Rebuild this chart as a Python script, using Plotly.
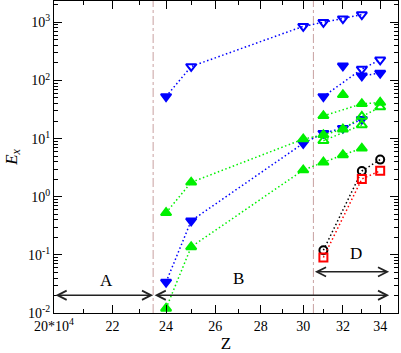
import math
import plotly.graph_objects as go

# ---- data ----
z_blue_top = [24, 25, 30, 31, 32, 33]
e_blue_top = [53, 174, 853, 1000, 1158, 1359]
sym_blue_top = ["triangle-down", "triangle-down-open", "triangle-down-open",
                "triangle-down-open", "triangle-down-open", "triangle-down-open"]

z_blue_mid = [31, 33, 34]
e_blue_mid = [53, 157, 227]
sym_blue_mid = ["triangle-down", "triangle-down-open", "triangle-down-open"]

z_blue_mid2 = [33, 34]
e_blue_mid2 = [120, 134]
z_blue_single = [32]
e_blue_single = [179]

z_blue_low = [24, 25, 30, 31, 32, 33]
e_blue_low = [0.034, 0.385, 8.3, 12.4, 15.1, 21.6]

z_green_1 = [24, 25, 30, 31, 32, 33, 34]
e_green_1 = [0.53, 1.77, 9.8, 11.6, 14.5, 24, 34.8]
sym_green_1 = ["triangle-up", "triangle-up", "triangle-up", "triangle-up",
               "triangle-up", "triangle-up-open", "triangle-up-open"]

z_green_2 = [24, 25, 30, 31, 32, 33]
e_green_2 = [0.012, 0.137, 2.88, 3.92, 5.24, 6.8]

z_green_3 = [31, 33, 34]
e_green_3 = [24.6, 39.6, 41.8]
z_green_single = [32]
e_green_single = [56.6]

z_green_open = [31, 33]
e_green_open = [9.2, 17.2]

z_black = [31, 33, 34]
e_black = [0.12, 2.77, 4.35]

z_red = [31, 33, 34]
e_red = [0.09, 2.02, 2.8]

boundaries = [23.5, 30.5]

x_ticks = [20, 22, 24, 26, 28, 30, 32, 34]
x_ticktext = ["20*10<sup>4</sup>", "22", "24", "26", "28", "30", "32", "34"]
x_minor = [21, 23, 25, 27, 29, 31, 33, 35]
y_ticks = [0.01, 0.1, 1, 10, 100, 1000]
y_ticktext = ["10<sup>-2</sup>", "10<sup>-1</sup>", "10<sup>0</sup>",
              "10<sup>1</sup>", "10<sup>2</sup>", "10<sup>3</sup>"]

BLUE = "#0000ff"
GREEN = "#00f000"
RED = "#ff0000"
BLACK = "#000000"
FONT = "Liberation Serif"
DOTS = "1.5px,2.5px"

fig = go.Figure()


def add_series(x, y, color, symbol, mode="lines+markers", size=9):
    fig.add_trace(go.Scatter(
        x=x, y=y, mode=mode,
        line=dict(color=color, width=1.5, dash=DOTS),
        marker=dict(symbol=symbol, size=size, color=color,
                    line=dict(color=color, width=2)),
        showlegend=False,
    ))


# vertical dash-dot region boundaries
for b in boundaries:
    fig.add_trace(go.Scatter(
        x=[b, b], y=[0.01, 3000], mode="lines",
        line=dict(color="#c8a0a0", width=1, dash="dashdot"),
        showlegend=False, hoverinfo="skip",
    ))

add_series(z_blue_top, e_blue_top, BLUE, sym_blue_top)
add_series(z_blue_mid, e_blue_mid, BLUE, sym_blue_mid)
add_series(z_blue_mid2, e_blue_mid2, BLUE, "triangle-down")
add_series(z_blue_single, e_blue_single, BLUE, "triangle-down", mode="markers")
add_series(z_blue_low, e_blue_low, BLUE, "triangle-down")
add_series(z_green_1, e_green_1, GREEN, sym_green_1)
add_series(z_green_2, e_green_2, GREEN, "triangle-up")
add_series(z_green_3, e_green_3, GREEN, "triangle-up")
add_series(z_green_single, e_green_single, GREEN, "triangle-up", mode="markers")
add_series(z_green_open, e_green_open, GREEN, "triangle-up-open")
add_series(z_black, e_black, BLACK, "circle-open", size=8)
add_series(z_red, e_red, RED, "square-open", size=8)

# double arrows for regions (annotation coords are log10 on log axes)
L = math.log10
arrows = [(20, 23.5, 0.0202), (23.5, 34.5, 0.0202), (30.5, 34.5, 0.051)]
for x0, x1, yy in arrows:
    fig.add_annotation(
        x=L(x1), y=L(yy), ax=L(x0), ay=L(yy),
        xref="x", yref="y", axref="x", ayref="y",
        text="", showarrow=True, arrowhead=5, startarrowhead=5,
        arrowside="end+start", arrowsize=1.2, arrowwidth=1.5,
        arrowcolor="#222222",
    )

labels = [("A", 21.77, 0.0366), ("B", 27.0, 0.0398), ("D", 32.7, 0.107)]
for txt, xx, yy in labels:
    fig.add_annotation(
        x=L(xx), y=L(yy), text=txt, showarrow=False,
        font=dict(family=FONT, size=17, color="black"),
    )

axis_common = dict(
    showline=True, linecolor="black", linewidth=1, mirror="allticks",
    ticks="inside", ticklen=8, tickcolor="black", tickwidth=1,
    showgrid=False, zeroline=False,
    tickfont=dict(family=FONT, size=14, color="black"),
)

fig.update_xaxes(
    type="log", range=[L(20), L(35)],
    tickmode="array", tickvals=x_ticks, ticktext=x_ticktext,
    minor=dict(ticks="inside", ticklen=4, tickvals=x_minor, tickcolor="black"),
    title=dict(text="Z", font=dict(family=FONT, size=17, color="black"), standoff=6),
    **axis_common,
)
fig.update_yaxes(
    type="log", range=[-2, 3.367],
    tickmode="array", tickvals=y_ticks, ticktext=y_ticktext,
    minor=dict(ticks="inside", ticklen=4, tickcolor="black",
               tickvals=[m * 10 ** e for e in range(-2, 4) for m in range(2, 10)]),
    title=dict(text="<i>E<sub>x</sub></i>", font=dict(family=FONT, size=17, color="black"),
               standoff=6),
    **axis_common,
)

fig.update_layout(
    width=401, height=353,
    margin=dict(l=54, r=3, t=1, b=40),
    paper_bgcolor="white", plot_bgcolor="white",
    showlegend=False,
)

fig.write_html("out.html", config={"displayModeBar": False},
               post_script="document.body.style.margin='0px';")
